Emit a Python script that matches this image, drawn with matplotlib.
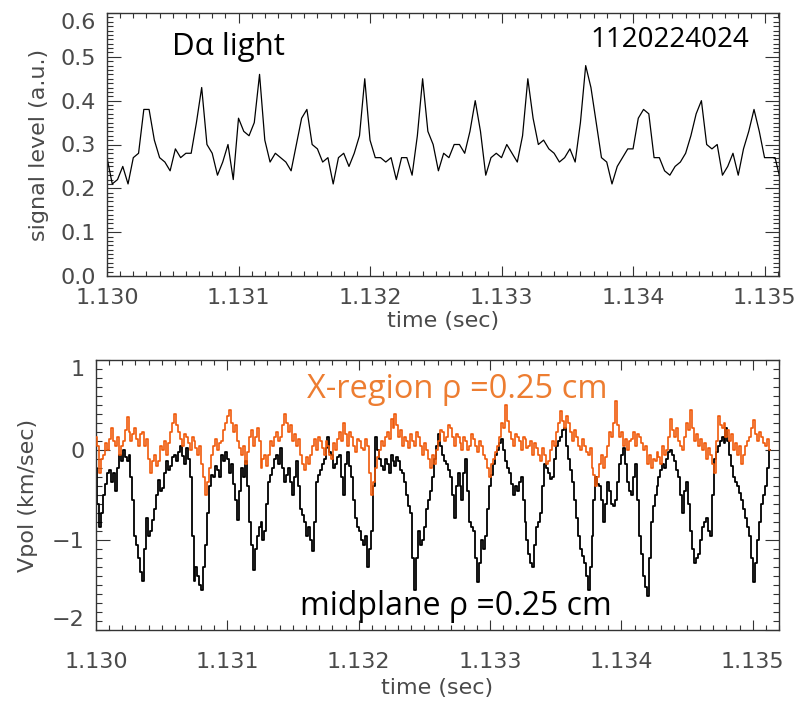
import numpy as np
import matplotlib
matplotlib.use("Agg")
import matplotlib.pyplot as plt
from matplotlib.ticker import MultipleLocator, FormatStrFormatter

# ---------------- data ----------------
# D-alpha light, sampled every 40 us starting at 1.130 s
da_t0 = 1.130
da_dt = 0.00004
dalpha = [
    0.27, 0.21, 0.22, 0.25, 0.21, 0.27, 0.28, 0.38, 0.38, 0.31,
    0.27, 0.26, 0.24, 0.29, 0.27, 0.28, 0.28, 0.35, 0.43, 0.30,
    0.28, 0.23, 0.26, 0.30, 0.22, 0.36, 0.33, 0.32, 0.35, 0.46,
    0.31, 0.26, 0.28, 0.27, 0.26, 0.24, 0.30, 0.36, 0.38, 0.30,
    0.29, 0.26, 0.27, 0.21, 0.27, 0.28, 0.25, 0.28, 0.32, 0.45,
    0.31, 0.27, 0.27, 0.26, 0.27, 0.22, 0.27, 0.27, 0.23, 0.32,
    0.45, 0.33, 0.30, 0.24, 0.28, 0.27, 0.30, 0.30, 0.28, 0.33,
    0.40, 0.33, 0.23, 0.27, 0.28, 0.27, 0.30, 0.28, 0.26, 0.32,
    0.45, 0.36, 0.30, 0.31, 0.29, 0.28, 0.26, 0.27, 0.29, 0.26,
    0.35, 0.48, 0.43, 0.35, 0.27, 0.26, 0.21, 0.25, 0.27, 0.29,
    0.29, 0.36, 0.38, 0.37, 0.27, 0.27, 0.24, 0.23, 0.25, 0.26,
    0.28, 0.32, 0.37, 0.40, 0.30, 0.29, 0.30, 0.23, 0.25, 0.28,
    0.23, 0.29, 0.33, 0.38, 0.33, 0.27, 0.27, 0.27, 0.22,
]

# Poloidal velocity (km/s), sampled every 15 us starting at 1.130 s
v_t0 = 1.130
v_dt = 0.000015
vpol_mid = [
    -0.20, -0.60, -0.85, -0.70, -0.50, -0.38, -0.25, -0.22, -0.35, -0.25,
    -0.45, -0.20, -0.05, -0.12, 0.00, -0.08, -0.12, -0.05, -0.30, -0.55,
    -0.95, -1.05, -1.20, -1.35, -1.46, -1.10, -0.75, -0.95, -0.90, -0.78,
    -0.65, -0.50, -0.33, -0.45, -0.42, -0.25, -0.12, -0.22, -0.18, -0.08,
    -0.05, -0.12, -0.02, 0.04, -0.07, -0.15, 0.02, -0.10, -0.30, -0.95,
    -1.45, -1.30, -1.40, -1.50, -1.56, -1.30, -1.05, -0.70, -0.40, -0.28,
    -0.30, -0.18, -0.22, -0.30, -0.05, -0.12, -0.02, -0.10, -0.25, -0.15,
    -0.38, -0.55, -0.78, -0.45, -0.20, -0.30, -0.12, -0.40, -0.80, -1.05,
    -1.33, -1.10, -0.95, -0.85, -0.80, -1.00, -0.90, -0.60, -0.35, -0.28,
    -0.20, -0.10, -0.05, -0.15, 0.02, -0.20, -0.35, -0.28, -0.20, -0.35,
    -0.50, -0.30, -0.12, -0.40, -0.65, -0.72, -0.80, -0.95, -0.85, -1.00,
    -1.12, -0.80, -0.35, -0.28, -0.22, -0.15, -0.10, 0.02, 0.15, -0.02,
    -0.05, -0.20, -0.15, -0.08, -0.05, -0.30, -0.50, -0.15, -0.02, -0.18,
    -0.30, -0.55, -0.75, -0.85, -0.90, -1.00, -1.05, -0.95, -1.30, -1.10,
    -0.90, -0.40, 0.15, 0.00, -0.10, -0.18, -0.22, -0.10, -0.15, -0.25,
    -0.05, -0.12, -0.18, -0.08, -0.12, -0.22, -0.25, -0.35, -0.50, -0.62,
    -0.70, -1.20, -1.55, -1.20, -0.90, -1.05, -1.00, -0.85, -0.65, -0.55,
    -0.45, -0.30, -0.10, 0.05, 0.18, 0.05, -0.05, -0.12, -0.15, -0.22,
    -0.30, -0.50, -0.75, -0.40, -0.25, -0.40, -0.55, -0.25, -0.10, -0.45,
    -0.80, -0.85, -0.90, -1.20, -1.47, -1.25, -1.00, -1.10, -0.95, -0.65,
    -0.40, -0.28, -0.15, -0.05, 0.00, 0.08, 0.12, 0.00, -0.12, -0.20,
    -0.25, -0.38, -0.50, -0.40, -0.45, -0.35, -0.30, -0.55, -0.80, -1.00,
    -1.15, -1.25, -1.30, -1.05, -0.85, -0.80, -0.70, -0.40, -0.15, -0.20,
    -0.25, -0.32, -0.30, -0.10, 0.05, 0.10, 0.15, 0.22, 0.25, 0.05,
    -0.10, -0.22, -0.35, -0.55, -0.75, -0.95, -1.10, -1.18, -1.25, -1.40,
    -1.55, -1.30, -0.95, -0.55, -0.30, -0.38, -0.40, -0.55, -0.80, -0.60,
    -0.35, -0.45, -0.60, -0.62, -0.55, -0.35, -0.15, -0.05, 0.02, -0.15,
    -0.35, -0.45, -0.50, -0.30, -0.15, -0.55, -0.95, -1.15, -1.40, -1.52,
    -1.62, -1.20, -0.80, -0.62, -0.50, -0.40, -0.30, -0.22, -0.15, -0.20,
    -0.10, -0.02, 0.00, -0.05, -0.12, -0.22, -0.30, -0.50, -0.70, -0.45,
    -0.35, -0.60, -0.90, -1.10, -1.25, -1.20, -1.15, -1.00, -0.85, -0.80,
    -0.75, -0.90, -0.95, -0.50, -0.10, -0.02, 0.05, 0.10, 0.15, 0.08,
    0.25, 0.10, -0.05, -0.18, -0.30, -0.35, -0.40, -0.48, -0.55, -0.65,
    -0.75, -0.85, -0.95, -1.20, -1.47, -1.25, -1.00, -0.80, -0.60, -0.50,
    -0.40, -0.20, 0.00,
]
vpol_x = [
    0.15, 0.05, -0.25, -0.10, -0.05, 0.08, 0.00, 0.12, 0.25, 0.10,
    0.05, 0.15, -0.05, 0.05, 0.10, 0.22, 0.37, 0.20, 0.10, 0.18,
    0.25, 0.12, 0.05, 0.18, 0.20, 0.05, 0.12, -0.10, -0.25, -0.12,
    -0.05, -0.18, -0.12, 0.05, 0.00, 0.10, -0.05, 0.08, 0.20, 0.30,
    0.40, 0.28, 0.20, 0.12, 0.05, 0.18, 0.15, 0.08, 0.00, 0.15,
    0.10, 0.02, -0.05, 0.05, -0.15, -0.30, -0.50, -0.35, -0.20, -0.05,
    0.05, 0.12, 0.00, 0.08, 0.10, 0.22, 0.30, 0.38, 0.45, 0.30,
    0.20, 0.28, 0.10, 0.02, -0.05, 0.05, -0.15, -0.02, 0.15, 0.22,
    0.05, 0.15, 0.25, 0.10, -0.20, -0.10, -0.05, -0.18, -0.05, 0.10,
    0.05, 0.15, 0.20, 0.10, 0.15, 0.28, 0.40, 0.30, 0.20, 0.28,
    0.10, 0.18, 0.05, 0.12, -0.05, -0.15, -0.22, -0.08, -0.15, -0.05,
    0.05, 0.12, 0.00, 0.15, 0.10, 0.02, -0.05, 0.10, 0.05, -0.05,
    -0.10, 0.08, 0.00, 0.12, 0.20, 0.10, 0.30, 0.18, 0.05, 0.20,
    0.15, 0.05, -0.02, 0.12, 0.10, 0.02, 0.00, 0.12, 0.05, -0.25,
    -0.50, -0.35, -0.20, -0.08, 0.00, 0.10, 0.05, 0.15, 0.20, 0.12,
    0.35, 0.25, 0.40, 0.28, 0.15, 0.22, 0.05, 0.15, 0.10, 0.02,
    0.18, 0.10, 0.05, 0.20, 0.15, 0.05, -0.05, 0.08, 0.00, -0.10,
    -0.20, -0.05, -0.15, 0.00, 0.10, 0.22, 0.20, 0.10, 0.15, 0.28,
    0.25, 0.15, 0.05, 0.18, 0.15, 0.08, 0.00, 0.15, 0.10, 0.00,
    0.05, 0.18, 0.12, 0.05, -0.02, 0.10, 0.05, -0.05, -0.10, -0.20,
    -0.30, -0.15, -0.10, -0.02, 0.05, 0.15, 0.30, 0.25, 0.50, 0.32,
    0.20, 0.12, 0.05, 0.18, 0.15, 0.10, 0.00, 0.15, 0.12, 0.02,
    0.05, 0.10, -0.05, 0.08, 0.02, -0.05, -0.12, 0.02, -0.05, -0.15,
    -0.12, 0.00, 0.10, 0.05, 0.20, 0.30, 0.43, 0.32, 0.25, 0.38,
    0.30, 0.20, 0.10, 0.22, 0.15, 0.05, 0.00, 0.12, 0.05, -0.02,
    -0.05, 0.02, -0.20, -0.28, -0.40, -0.30, -0.15, -0.05, -0.20, -0.08,
    0.05, 0.20, 0.15, 0.30, 0.55, 0.28, 0.15, 0.20, 0.05, 0.12,
    0.00, 0.10, 0.12, 0.20, 0.05, 0.18, 0.15, 0.08, 0.00, 0.05,
    -0.15, -0.05, -0.20, -0.10, -0.12, -0.02, -0.08, -0.15, 0.05, -0.05,
    0.00, 0.15, 0.35, 0.22, 0.15, 0.25, 0.10, 0.05, 0.00, 0.15,
    0.30, 0.22, 0.45, 0.25, 0.10, 0.18, 0.05, 0.12, 0.00, 0.08,
    -0.10, 0.02, -0.05, -0.15, -0.25, 0.10, 0.38, 0.28, 0.25, 0.30,
    0.15, 0.22, 0.10, 0.18, 0.00, 0.08, -0.05, 0.05, -0.15, -0.05,
    0.05, 0.10, 0.15, 0.25, 0.33, 0.18, 0.10, 0.20, 0.15, 0.08,
    0.05, 0.12, 0.00,
]

x_ticks = [1.130, 1.131, 1.132, 1.133, 1.134, 1.135]
top_yticks = [0.0, 0.1, 0.2, 0.3, 0.4, 0.5, 0.6]
bot_yticks = [-2, -1, 0, 1]

# ---------------- figure ----------------
W, H = 798, 706
fig = plt.figure(figsize=(W / 100, H / 100), dpi=100)
fig.patch.set_facecolor("white")

def px_axes(l, t, r, b):
    return fig.add_axes([l / W, 1 - b / H, (r - l) / W, (b - t) / H])

tick_col = "#4a4a4a"
spine_col = "#333333"

def style(ax, xmax, ylim, ymin, xpad, ypad):
    ax.set_xlim(1.130, xmax)
    ax.set_ylim(*ylim)
    ax.set_xticks(x_ticks)
    ax.xaxis.set_major_formatter(FormatStrFormatter("%.3f"))
    ax.xaxis.set_minor_locator(MultipleLocator(0.0001))
    ax.yaxis.set_minor_locator(MultipleLocator(ymin))
    ax.tick_params(which="both", direction="in", top=True, right=True,
                   color=spine_col, width=0.8)
    ax.tick_params(axis="x", which="major", length=7, pad=xpad,
                   labelsize=16, labelcolor=tick_col)
    ax.tick_params(axis="x", which="minor", length=3.3)
    ax.tick_params(axis="y", which="major", length=10, pad=ypad,
                   labelsize=16, labelcolor=tick_col)
    ax.tick_params(axis="y", which="minor", length=4.3)
    for s in ax.spines.values():
        s.set_color(spine_col)
        s.set_linewidth(1.0)

# ---- top panel ----
ax1 = px_axes(107, 13, 779, 276)
t_da = da_t0 + da_dt * np.arange(len(dalpha))
ax1.plot(t_da, dalpha, color="black", lw=0.9)
style(ax1, 1.13511, (0.0, 0.6), 0.01, 9, 8)
ax1.set_yticks(top_yticks)
ax1.yaxis.set_major_formatter(FormatStrFormatter("%.1f"))
ax1.set_xlabel("time (sec)", fontsize=16, color=tick_col, labelpad=2)
ax1.set_ylabel("signal level (a.u.)", fontsize=16, color=tick_col, labelpad=8)
fig.canvas.draw()
ax1.get_yticklabels()[-1].set_va("top")

# ---- bottom panel ----
ax2 = px_axes(96, 360, 779, 630)
t_v = v_t0 + v_dt * np.arange(len(vpol_mid))
ax2.plot(t_v, vpol_mid, color="black", lw=1.3, zorder=2, drawstyle="steps-mid")
ax2.plot(t_v, vpol_x, color="#F05A0A", lw=1.2, zorder=3, drawstyle="steps-mid")
style(ax2, 1.13520, (-2.0, 1.0), 0.1, 16, 8)
ax2.set_yticks(bot_yticks)
ax2.set_yticklabels(["\u22122", "\u22121", "0", "1"])
ax2.set_xlabel("time (sec)", fontsize=16, color=tick_col, labelpad=4)
ax2.set_ylabel("Vpol (km/sec)", fontsize=16, color=tick_col, labelpad=10)
labs = ax2.get_yticklabels()
labs[0].set_va("bottom")
labs[-1].set_va("top")

# ---- annotations ----
ann_font = ["Open Sans", "DejaVu Sans"]
fig.text(172 / W, 1 - 55 / H, "D\u03b1 light", fontsize=22.5, family=ann_font,
         color="black", ha="left", va="baseline")
fig.text(590 / W, 1 - 47 / H, "1120224024", fontsize=20, family=ann_font,
         color="black", ha="left", va="baseline")
fig.text(307 / W, 1 - 398 / H, "X-region \u03c1 =0.25 cm", fontsize=23.5,
         family=ann_font, color="#ED7D31", ha="left", va="baseline")
fig.text(300 / W, 1 - 615 / H, "midplane \u03c1 =0.25 cm", fontsize=23,
         family=ann_font, color="black", ha="left", va="baseline")

fig.savefig("out.png", dpi=100)
